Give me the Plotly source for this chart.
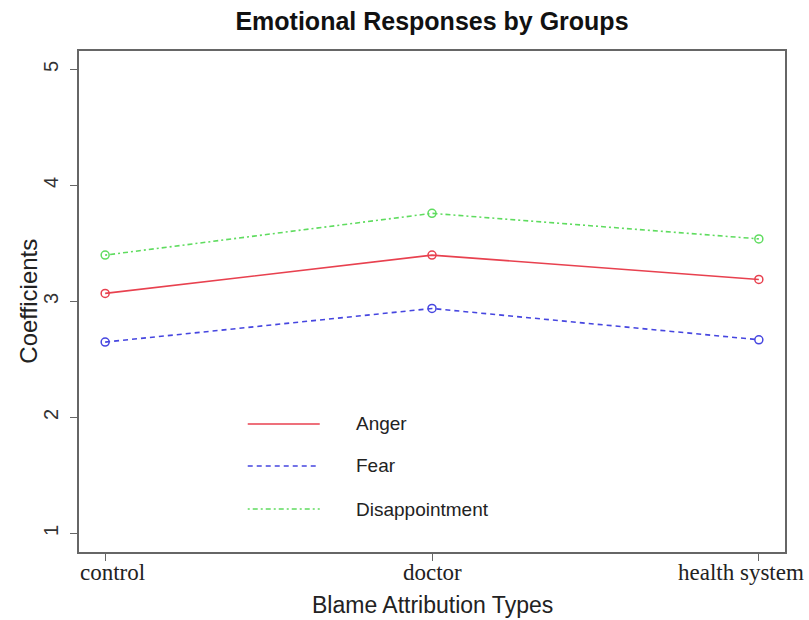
import plotly.graph_objects as go

# Blame attribution groups and emotion coefficients
groups = ["control", "doctor", "health system"]
anger = [3.07, 3.40, 3.19]
fear = [2.65, 2.94, 2.67]
disappointment = [3.40, 3.76, 3.54]

y_ticks = [1, 2, 3, 4, 5]
emotions = ["Anger", "Fear", "Disappointment"]

colors = {"Anger": "#e8414f", "Fear": "#4646e0", "Disappointment": "#5fdc5f"}
dashes = {"Anger": "solid", "Fear": "5px,4px", "Disappointment": "2px,3px,5px,3px"}
series = {"Anger": anger, "Fear": fear, "Disappointment": disappointment}

xpos = list(range(1, len(groups) + 1))
sans = "Liberation Sans"

fig = go.Figure()
for name in emotions:
    fig.add_trace(go.Scatter(
        x=xpos, y=series[name], mode="lines+markers", name=name,
        line=dict(color=colors[name], width=1.6, dash=dashes[name]),
        marker=dict(symbol="circle-open", size=8, color=colors[name],
                    line=dict(width=1.5, color=colors[name])),
        showlegend=False,
    ))

axis_col = "#666666"
fig.update_xaxes(
    range=[0.92, 3.08], tickvals=xpos, showticklabels=False,
    ticks="outside", ticklen=7, tickcolor=axis_col, tickwidth=1,
    showline=True, linecolor=axis_col, linewidth=1.5, mirror=True,
    showgrid=False, zeroline=False,
)
fig.update_yaxes(
    range=[0.84, 5.16], tickvals=y_ticks, ticktext=[str(v) for v in y_ticks],
    tickangle=-90, ticks="outside", ticklen=7, tickcolor=axis_col, tickwidth=1,
    tickfont=dict(family=sans, size=20, color="#333333"),
    ticklabelstandoff=4,
    showline=True, linecolor=axis_col, linewidth=1.5, mirror=True,
    showgrid=False, zeroline=False,
)

annotations = []
# serif group labels under the axis
shifts = [7, 0, -18]
for g, xv, dx in zip(groups, xpos, shifts):
    annotations.append(dict(
        x=xv, y=0, xref="x", yref="paper", text=g, showarrow=False,
        xanchor="center", yanchor="top", xshift=dx, yshift=-6,
        font=dict(family="Liberation Serif", size=23, color="#222222"),
    ))
annotations.append(dict(
    x=0.5, y=-0.106, xref="paper", yref="paper", text="Blame Attribution Types",
    showarrow=False, xanchor="center", yanchor="middle",
    font=dict(family=sans, size=23, color="#222222"),
))
annotations.append(dict(
    x=-0.072, y=0.5, xref="paper", yref="paper", text="Coefficients",
    showarrow=False, xanchor="center", yanchor="middle", textangle=-90,
    font=dict(family=sans, size=24, color="#222222"),
))

# hand-placed legend inside the plot area
shapes = []
legend_rows = [0.2555, 0.1717, 0.0858]
for name, ly in zip(emotions, legend_rows):
    shapes.append(dict(
        type="line", xref="paper", yref="paper", x0=0.239, x1=0.341, y0=ly, y1=ly,
        line=dict(color=colors[name], width=1.6, dash=dashes[name]),
    ))
    annotations.append(dict(
        x=0.389, y=ly, xref="paper", yref="paper", text=name, showarrow=False,
        xanchor="left", yanchor="middle",
        font=dict(family=sans, size=19, color="#222222"),
    ))

fig.update_layout(
    width=809, height=620,
    margin=dict(l=79, r=24, t=51, b=68),
    paper_bgcolor="white", plot_bgcolor="white",
    title=dict(
        text="<b>Emotional Responses by Groups</b>", x=0.534, y=0.966,
        xanchor="center", yanchor="middle",
        font=dict(family=sans, size=25, color="#111111"),
    ),
    annotations=annotations, shapes=shapes,
)

fig.write_html("out.html")
